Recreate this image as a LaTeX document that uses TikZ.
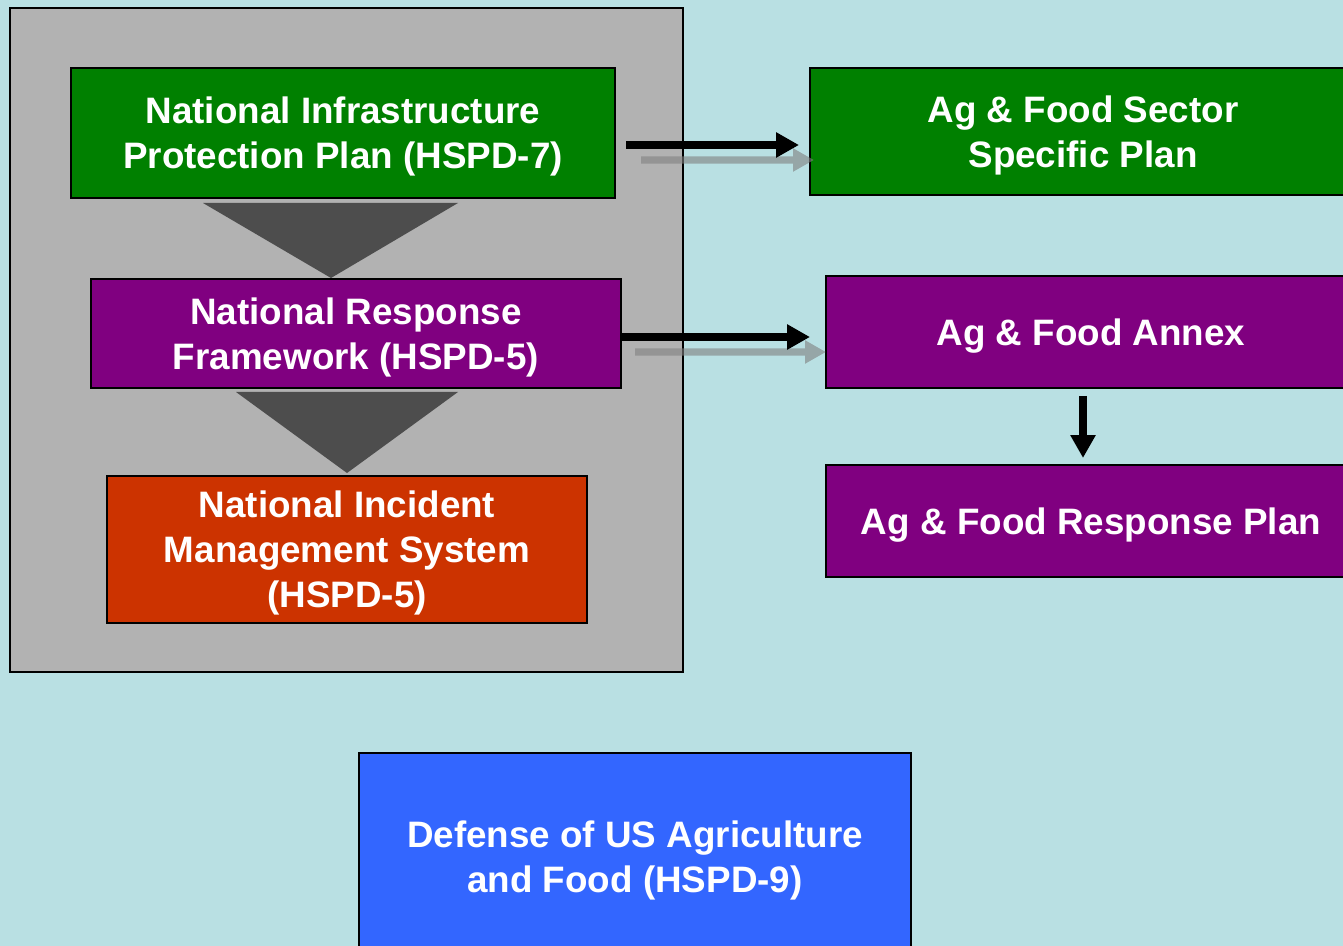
\documentclass[tikz,border=0pt]{standalone}
\usepackage{fontspec}
\setmainfont{Liberation Sans}
\usetikzlibrary{arrows.meta}
\definecolor{bgc}{HTML}{B9E0E3}
\definecolor{framegray}{HTML}{B2B2B2}
\definecolor{tridark}{HTML}{4D4D4D}
\definecolor{boxgreen}{HTML}{008000}
\definecolor{boxpurple}{HTML}{800080}
\definecolor{boxorange}{HTML}{CC3300}
\definecolor{boxblue}{HTML}{3366FF}
\begin{document}
\begin{tikzpicture}[x=0.5pt,y=-0.5pt,
  box/.style={draw=black, line width=1pt, text=white, align=center, inner sep=0pt,
    text depth=-0.4pt, font=\fontsize{18.4}{22.5}\selectfont\bfseries},
  framebox/.style={draw=black, line width=0.9pt, fill=framegray, inner sep=0pt},
  tri/.style={fill=tridark},
  bigarrow/.style={draw=black, line width=4pt, -{Triangle[length=11.5pt,width=12pt]}},
  shadowarrow/.style={draw=gray, line width=3.6pt, -{Triangle[length=10.5pt,width=11pt]}}
]
\useasboundingbox (0,0) rectangle (1343,946);
\clip (0,0) rectangle (1343,946);
\fill[bgc] (0,0) rectangle (1343,946);

\node[framebox, minimum width=336.5pt, minimum height=332pt] (frame) at (346.5,340) {};

\node[box, fill=boxgreen, minimum width=272pt, minimum height=65pt] (nip) at (343,133)
  {National Infrastructure\\Protection Plan (HSPD-7)};
\node[box, fill=boxpurple, minimum width=265pt, minimum height=54.5pt] (nrf) at (356,333.5)
  {National Response\\Framework (HSPD-5)};
\node[box, fill=boxorange, minimum width=240pt, minimum height=73.5pt] (nims) at (347,549.5)
  {National Incident\\Management System\\(HSPD-5)};

\node[box, fill=boxgreen, minimum width=273pt, minimum height=63.5pt] (agplan) at (1083,131.5)
  {Ag \& Food Sector\\Specific Plan};
\node[box, fill=boxpurple, minimum width=265pt, minimum height=56pt] (annex) at (1091,332)
  {Ag \& Food Annex};
\node[box, fill=boxpurple, minimum width=265pt, minimum height=56pt] (resp) at (1091,521)
  {Ag \& Food Response Plan};

\node[box, fill=boxblue, minimum width=276pt, minimum height=104pt] (hspd9) at (635,857)
  {Defense of US Agriculture\\and Food (HSPD-9)};

% down-pointing triangles
\fill[tri] (203,203) -- (458,203) -- (331,278) -- cycle;
\fill[tri] (236,392) -- (458,392) -- (347,473) -- cycle;

% shadow arrows
\begin{scope}[transparency group, opacity=0.6]
  \draw[shadowarrow, shorten <=12.5pt, shorten >=-2.5pt] (nip.east |- 0,160) -- (agplan.west |- 0,160);
\end{scope}
\begin{scope}[transparency group, opacity=0.6]
  \draw[shadowarrow, shorten <=6.5pt, shorten >=-0.5pt] (nrf.east |- 0,352) -- (annex.west |- 0,352);
\end{scope}

% black arrows
\draw[bigarrow, shorten <=5pt, shorten >=5pt] (nip.east |- 0,145) -- (agplan.west |- 0,145);
\draw[bigarrow, shorten <=-1pt, shorten >=7.5pt] (nrf.east |- 0,337) -- (annex.west |- 0,337);
\draw[bigarrow, shorten <=3.5pt, shorten >=3pt] ([xshift=-4pt]annex.south) -- ([xshift=-4pt]resp.north);
\end{tikzpicture}
\end{document}
